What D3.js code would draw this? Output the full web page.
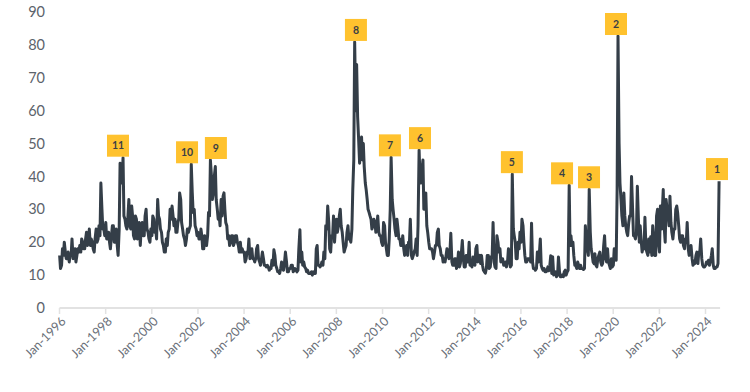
<!DOCTYPE html>
<html>
<head>
<meta charset="utf-8">
<script src="https://cdn.jsdelivr.net/npm/d3@7"></script>
<style>
  html, body { margin: 0; padding: 0; background: #ffffff; }
  svg { display: block; }
</style>
</head>
<body>
<svg id="chart" width="750" height="392"></svg>
<script>
// ---- DATA (VIX level, two samples per month: ~3rd and ~17th), Jan-1996 .. Aug-2024 ----
const startYear = 1996;
const vixEarly = [
  16, 13, 16, 17, 15, 14, 16, 15, 18, 16, 17, 17,      // 1996
  20, 18, 23, 21, 19, 20, 17, 24, 21, 22, 30, 24,      // 1997
  26, 21, 20, 22, 25, 20, 19, 24, 40, 45.7, 27, 24,    // 1998
  33, 24, 28, 21, 27, 22, 19, 26, 22, 30, 23, 20,      // 1999
  22, 27, 24, 33, 27, 23, 19, 17, 19, 24, 27, 28,      // 2000
  27, 23, 27, 33, 24, 21, 21, 23, 25, 35, 30, 24,      // 2001
  23, 21, 22, 18, 21, 22, 28, 40, 35, 43, 30, 28,      // 2002
  33, 34, 30, 25, 22, 20, 22, 20, 22, 19, 20, 18,      // 2003
  17, 15, 17, 15, 18, 15, 15, 19, 14, 15, 15, 13,      // 2004
  13, 11.5, 12, 13, 16, 12, 11, 12, 12, 14, 14, 11,    // 2005
  12, 13, 11.5, 11.5, 11.5, 23.8, 17, 14, 12, 11.5, 10.5, 11, // 2006
  11, 10.5, 19, 13, 13, 13, 15, 24, 26, 17, 22, 20,    // 2007
  27, 25, 30, 23, 17, 19, 25, 21, 24, 45, 60, 58,      // 2008
  44, 52, 50, 38, 33, 29, 27, 25, 26, 25, 23, 22,      // 2009
  19, 25, 18, 16, 30, 33, 27, 22, 24, 21, 19, 18,      // 2010
  17, 16, 20, 16, 16, 18, 16, 48, 38, 45, 32, 25,      // 2011
  20, 18, 17, 17, 19, 24, 18, 16, 15, 16, 17, 17,      // 2012
  14, 13, 15, 13.5, 12.5, 17, 15, 12.5, 16, 20, 13, 15.5, // 2013
  13, 19, 15, 13.5, 13, 11, 12, 16, 12.5, 16, 14, 12,  // 2014
  20, 18, 15, 13, 14, 14, 17, 13, 24, 20, 15, 18,      // 2015
  20, 25, 16, 14, 15, 14, 14, 12, 12, 14, 21, 12,      // 2016
  12, 11, 12.5, 13, 10.5, 10, 11, 10, 11, 9.5, 9.5, 11.5, // 2017
  11, 37.3, 22, 20, 13, 12, 13, 13, 12, 12, 20, 16,    // 2018
  23, 16, 13.5, 13, 15, 17, 13, 19, 15, 18, 13, 15,    // 2019
  13, 16, 36, 50, 33, 25, 28, 23, 26, 28, 30, 22,      // 2020
  23, 27, 25, 17, 18, 18, 16, 17, 16, 21, 16, 30,      // 2021
  17, 24, 36, 20, 30, 25, 26, 21, 24, 31, 25, 20,      // 2022
  22, 18, 20, 18, 17, 15, 13.5, 16, 13.5, 17, 15, 12.5, // 2023
  13, 13.5, 13, 16, 13, 12, 12.5, 38.57                // 2024
];
const vixLate = [
  12, 18, 20, 15, 17, 16, 21, 17, 14, 18, 19, 21,      // 1996
  18, 21, 19, 24, 21, 18, 21, 20, 25, 38, 24, 22,      // 1997
  21, 23, 18, 25, 20, 24, 16, 44, 38, 28, 25, 27,      // 1998
  25, 31, 22, 28, 21, 26, 24, 22, 28, 24, 21, 24,      // 1999
  28, 23, 21, 28, 24, 20, 17, 21, 23, 30, 31, 25,      // 2000
  23, 26, 35, 26, 22, 19, 24, 24, 43.7, 29, 25, 22,    // 2001
  21, 24, 18, 22, 19, 29, 45, 33, 40, 33, 27, 25,      // 2002
  28, 35, 26, 21, 19, 22, 19, 22, 20, 17, 17, 17,      // 2003
  14, 17, 21, 17, 15, 14, 18, 15, 13, 17, 13, 12.5,    // 2004
  12.5, 12, 14.5, 17.7, 13, 11, 10.5, 14, 11.5, 17, 11, 12, // 2005
  13, 11, 12, 11, 18, 14, 13, 12.5, 11, 10.5, 10.5, 10, // 2006
  10.5, 18, 13, 12.5, 14, 17, 25, 31, 18, 22, 28, 24,  // 2007
  23, 28, 25, 20, 18, 23, 21, 20, 36, 80.9, 74, 52,    // 2008
  50, 45, 43, 36, 30, 28, 24, 27, 23, 28, 22, 20,      // 2009
  26, 20, 16, 21, 45.8, 30, 24, 27, 21, 19, 22, 16,    // 2010
  19, 20, 27, 15, 17, 21, 25, 40, 42, 30, 35, 23,      // 2011
  18, 18, 15, 19, 23, 19, 16, 14, 14, 18, 15, 22.7,    // 2012
  13, 15, 12, 17, 13.5, 20.5, 12.5, 16, 14, 13, 12.5, 14, // 2013
  18, 14, 16, 16, 11.5, 10.6, 16, 12, 15.5, 26, 12.5, 22, // 2014
  17, 14, 15, 13, 12.5, 18, 12.5, 40.7, 22, 15, 20, 23, // 2015
  27, 20, 14, 15, 15, 25.8, 12, 11.5, 17, 16, 13, 11.5, // 2016
  11, 11.5, 11.3, 15.9, 15.6, 10.5, 9.5, 15.5, 9.5, 10, 11, 10, // 2017
  11.5, 19, 19, 16, 13, 14, 12, 12, 11.7, 25, 18, 36.1, // 2018
  18, 14, 16.5, 12.5, 16, 14, 13.5, 22, 14, 14, 12, 12.5, // 2019
  18, 14.5, 82.7, 38, 28, 35, 25, 22, 28, 40, 22, 21,  // 2020
  37, 20, 21, 18.5, 27.6, 17, 21, 21.7, 25, 16, 28, 20, // 2021
  31, 30, 25, 33, 29, 34, 23, 24, 30, 29, 21, 22,      // 2022
  19, 21, 26, 16, 19, 13, 13.5, 17, 17, 21, 13, 12.5,  // 2023
  14, 14.5, 14, 18, 12, 12.5, 13.5, null               // 2024
];
const yTicks = [0, 10, 20, 30, 40, 50, 60, 70, 80, 90];
const annoLabels = ["11", "10", "9", "8", "7", "6", "5", "4", "3", "2", "1"];
const annoDates = ["1998-07-15", "2001-07-12", "2002-10-12", "2008-11-06", "2010-04-28",
                   "2011-08-17", "2015-08-11", "2017-10-13", "2018-12-14", "2020-02-14", "2024-07-01"];
const annoPeaks = [45.7, 43.7, 45, 80.9, 45.8, 48, 40.7, 37.3, 36.1, 82.7, 38.6];

// ---- build series ----
const series = [];
vixEarly.forEach((v, i) => {
  if (v != null) series.push({ date: new Date(startYear, i, 3), value: v });
  const l = vixLate[i];
  if (l != null) series.push({ date: new Date(startYear, i, 17), value: l });
});
const lastDate = series[series.length - 1].date;

const svg = d3.select("#chart");
const font = "Lato, 'Open Sans', sans-serif";

const x = d3.scaleTime()
  .domain([new Date(1996, 0, 1), new Date(2024, 0, 1)])
  .range([59.5, 705.5]);
const y = d3.scaleLinear().domain([0, 90]).range([308, 12]);

// y labels
svg.append("g").selectAll("text").data(yTicks).join("text")
  .attr("x", 45)
  .attr("y", d => y(d))
  .attr("dy", "0.35em")
  .attr("text-anchor", "end")
  .attr("font-family", font)
  .attr("font-size", 14.5)
  .attr("fill", "#5c636b")
  .text(d => d);

// x axis baseline and ticks
const xTicks = x.ticks(d3.timeYear.every(2));
const ax = svg.append("g");
ax.append("line")
  .attr("x1", x(new Date(1996, 0, 1))).attr("x2", x(lastDate) + 1)
  .attr("y1", 308).attr("y2", 308)
  .attr("stroke", "#e2e2e2").attr("stroke-width", 2);
ax.selectAll("line.tick").data(xTicks).join("line")
  .attr("class", "tick")
  .attr("x1", d => x(d)).attr("x2", d => x(d))
  .attr("y1", 308).attr("y2", 314)
  .attr("stroke", "#e2e2e2").attr("stroke-width", 1.5);
const fmt = d3.timeFormat("%b-%Y");
ax.selectAll("text").data(xTicks).join("text")
  .attr("transform", d => `translate(${x(d) + 4},${319}) rotate(-45)`)
  .attr("text-anchor", "end")
  .attr("dy", "0.35em")
  .attr("font-family", font)
  .attr("font-size", 12.5)
  .attr("fill", "#6a7079")
  .text(d => fmt(d));

// line
const line = d3.line().x(d => x(d.date)).y(d => y(d.value));
svg.append("path")
  .datum(series)
  .attr("d", line)
  .attr("fill", "none")
  .attr("stroke", "#343e48")
  .attr("stroke-width", 3)
  .attr("stroke-linejoin", "round");

// annotation boxes
const anno = annoLabels.map((lab, i) => ({ lab, date: new Date(annoDates[i]), peak: annoPeaks[i] }));
const g = svg.append("g").selectAll("g").data(anno).join("g")
  .attr("transform", d => `translate(${x(d.date)},${y(d.peak)})`);
g.append("rect")
  .attr("x", -11).attr("y", -23)
  .attr("width", 22).attr("height", 22)
  .attr("fill", "#ffc22e");
g.append("text")
  .attr("x", 0).attr("y", -12)
  .attr("dy", "0.35em")
  .attr("text-anchor", "middle")
  .attr("font-family", font)
  .attr("font-weight", "bold")
  .attr("font-size", 10.5)
  .attr("fill", "#3b3f45")
  .text(d => d.lab);
</script>
</body>
</html>
